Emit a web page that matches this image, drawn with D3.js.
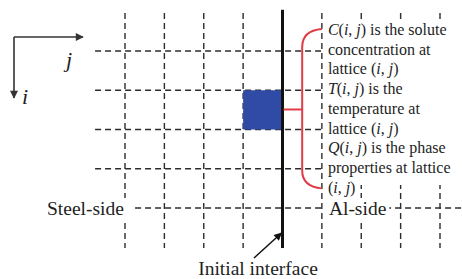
<!DOCTYPE html>
<html>
<head>
<meta charset="utf-8">
<script src="https://cdn.jsdelivr.net/npm/d3@7"></script>
<style>
  html, body { margin: 0; padding: 0; background: #fff; }
  svg text { font-family: "Liberation Serif", "Times New Roman", "DejaVu Serif", serif; }
</style>
</head>
<body>
<div id="chart"></div>
<script>
// lattice columns (4 = initial interface) and rows
var colIdx = [0, 1, 2, 3, 4, 5, 6, 7, 8];
var rowIdx = [0, 1, 2, 3, 4];
var interfaceCol = 4;
var cellCol = [3];
var cellRow = [1];

// annotation text, one entry per line; pieces flagged italic
var noteLines = [
  [["C", 1], ["(", 0], ["i", 1], [", ", 0], ["j", 1], [") is the solute", 0]],
  [["concentration at", 0]],
  [["lattice (", 0], ["i", 1], [", ", 0], ["j", 1], [")", 0]],
  [["T", 1], ["(", 0], ["i", 1], [", ", 0], ["j", 1], [") is the", 0]],
  [["temperature at", 0]],
  [["lattice (", 0], ["i", 1], [", ", 0], ["j", 1], [")", 0]],
  [["Q", 1], ["(", 0], ["i", 1], [", ", 0], ["j", 1], [") is the phase", 0]],
  [["properties at lattice", 0]],
  [["(", 0], ["i", 1], [", ", 0], ["j", 1], [")", 0]]
];
var sideLabels = ["Steel-side", "Al-side"];
var interfaceLabel = "Initial interface";

var width = 462, height = 279;
var serif = "'Liberation Serif', 'Times New Roman', serif";

var svg = d3.select("#chart").append("svg")
  .attr("width", width)
  .attr("height", height)
  .attr("viewBox", [0, 0, width, height])
  .attr("font-family", serif);

var defs = svg.append("defs");
function marker(id, color) {
  defs.append("marker")
    .attr("id", id)
    .attr("viewBox", "0 0 10 10")
    .attr("refX", 9).attr("refY", 5)
    .attr("markerWidth", 11).attr("markerHeight", 8)
    .attr("markerUnits", "userSpaceOnUse")
    .attr("orient", "auto")
    .append("path")
    .attr("d", "M0,0 L10,5 L0,10 Z")
    .attr("fill", color);
}
marker("headGray", "#333");
marker("headBlack", "#111");

var x = d3.scaleLinear().domain([0, 8]).range([125, 440]);
var y = d3.scaleLinear().domain([0, 4]).range([51, 208]);

var gridColor = "#2c2c2c";

// horizontal lattice lines
svg.append("g").selectAll("line")
  .data(rowIdx)
  .join("line")
    .attr("x1", x(-0.76)).attr("x2", width)
    .attr("y1", d => y(d)).attr("y2", d => y(d))
    .attr("stroke", gridColor)
    .attr("stroke-width", 1.4)
    .attr("stroke-dasharray", "6,4");

// vertical lattice lines
svg.append("g").selectAll("line")
  .data(colIdx.filter(d => d !== interfaceCol))
  .join("line")
    .attr("x1", d => x(d)).attr("x2", d => x(d))
    .attr("y1", y(-0.97)).attr("y2", y(5.02))
    .attr("stroke", gridColor)
    .attr("stroke-width", 1.4)
    .attr("stroke-dasharray", "6,4");

// highlighted lattice cell
svg.append("rect")
  .attr("x", x(cellCol[0]))
  .attr("y", y(cellRow[0]))
  .attr("width", x(cellCol[0] + 1) - x(cellCol[0]))
  .attr("height", y(cellRow[0] + 1) - y(cellRow[0]))
  .attr("fill", "#2f4ba6");

// white background behind the annotation block
svg.append("rect")
  .attr("x", x(5) + 2).attr("y", 21)
  .attr("width", width - x(5) - 2).attr("height", 164)
  .attr("fill", "#fff");

// initial interface
svg.append("line")
  .attr("x1", x(interfaceCol)).attr("x2", x(interfaceCol))
  .attr("y1", y(-1.05)).attr("y2", y(5.02))
  .attr("stroke", "#111")
  .attr("stroke-width", 3);

// red bracket
var red = "#e23b48";
var bx = (x(4) + x(5)) / 2;
var br = d3.path();
br.moveTo(x(5), y(-0.56));
br.quadraticCurveTo(bx, y(-0.52), bx, y(-0.1));
br.lineTo(bx, y(3.05));
br.quadraticCurveTo(bx, y(3.45), x(5), y(3.5));
svg.append("path")
  .attr("d", br.toString())
  .attr("fill", "none")
  .attr("stroke", red)
  .attr("stroke-width", 2);
svg.append("line")
  .attr("x1", x(interfaceCol) + 1).attr("x2", bx)
  .attr("y1", y(1.49)).attr("y2", y(1.49))
  .attr("stroke", red)
  .attr("stroke-width", 2);

// annotation text
var note = svg.append("g")
  .attr("fill", "#1e1e1e")
  .attr("font-size", 16);
noteLines.forEach(function(parts, k) {
  var t = note.append("text")
    .attr("x", x(5) + 6)
    .attr("y", 35 + k * 19.7);
  t.selectAll("tspan")
    .data(parts)
    .join("tspan")
      .attr("font-style", d => d[1] ? "italic" : null)
      .text(d => d[0]);
  if (k === noteLines.length - 1) {
    var bb = t.node().getBBox();
    note.insert("rect", "text")
      .attr("x", bb.x - 2).attr("y", bb.y)
      .attr("width", bb.width + 4).attr("height", bb.height)
      .attr("fill", "#fff");
  }
});

// side labels with white backing
function sideLabel(txt, px, py, padL, padR) {
  var g = svg.append("g");
  var t = g.append("text")
    .attr("x", px).attr("y", py)
    .attr("font-size", 19.5)
    .attr("fill", "#1e1e1e")
    .text(txt);
  var bb = t.node().getBBox();
  g.insert("rect", "text")
    .attr("x", bb.x - padL).attr("y", bb.y)
    .attr("width", bb.width + padL + padR).attr("height", bb.height)
    .attr("fill", "#fff");
}
sideLabel(sideLabels[0], 47, 215, 2, 10);
sideLabel(sideLabels[1], x(5) + 7, 215, 5, 3);

// interface arrow and label
svg.append("line")
  .attr("x1", 254).attr("y1", 258)
  .attr("x2", x(interfaceCol) - 1).attr("y2", 233)
  .attr("stroke", "#111")
  .attr("stroke-width", 1.5)
  .attr("marker-end", "url(#headBlack)");
svg.append("text")
  .attr("x", 258).attr("y", 275)
  .attr("text-anchor", "middle")
  .attr("font-size", 19.5)
  .attr("fill", "#1e1e1e")
  .text(interfaceLabel);

// i, j direction axes
var ax = svg.append("g").attr("stroke", "#333").attr("stroke-width", 1.6);
ax.append("line")
  .attr("x1", 14).attr("y1", 37).attr("x2", 83).attr("y2", 37)
  .attr("marker-end", "url(#headGray)");
ax.append("line")
  .attr("x1", 14).attr("y1", 37).attr("x2", 14).attr("y2", 98)
  .attr("marker-end", "url(#headGray)");
svg.append("text")
  .attr("x", 66).attr("y", 67)
  .attr("font-size", 22).attr("font-style", "italic")
  .attr("fill", "#1e1e1e")
  .text("j");
svg.append("text")
  .attr("x", 22).attr("y", 104)
  .attr("font-size", 22).attr("font-style", "italic")
  .attr("fill", "#1e1e1e")
  .text("i");
</script>
</body>
</html>
